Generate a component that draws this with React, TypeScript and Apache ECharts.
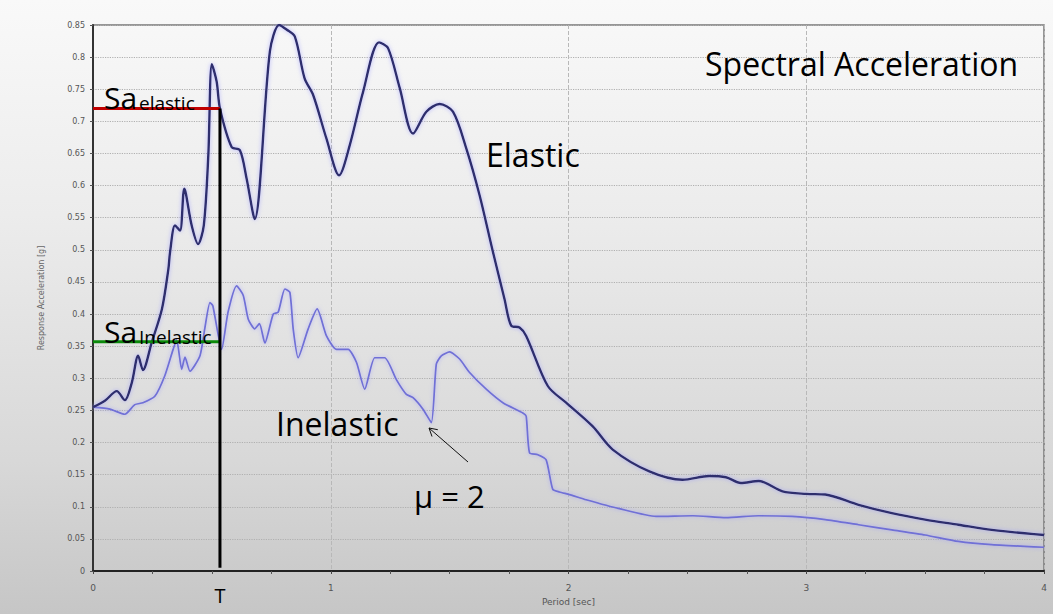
import React, { useEffect, useRef } from "react";
import * as echarts from "echarts";

// Elastic response spectrum (period [sec], Sa [g])
const ELASTIC_T = [0, 0.05, 0.1, 0.134, 0.163, 0.19, 0.21, 0.247, 0.29, 0.317, 0.324, 0.345, 0.366, 0.384, 0.415, 0.442, 0.466, 0.485, 0.5, 0.52, 0.534, 0.583, 0.618, 0.646, 0.68, 0.744, 0.783, 0.814, 0.849, 0.89, 0.926, 0.982, 1.035, 1.08, 1.136, 1.203, 1.241, 1.29, 1.346, 1.402, 1.458, 1.514, 1.57, 1.626, 1.68, 1.731, 1.759, 1.794, 1.822, 1.913, 1.99, 2.102, 2.186, 2.34, 2.48, 2.592, 2.662, 2.725, 2.8, 2.9, 3.0, 3.08, 3.22, 3.36, 3.5, 3.64, 3.78, 4.0];
const ELASTIC_SA = [0.255, 0.265, 0.28, 0.266, 0.293, 0.335, 0.313, 0.356, 0.408, 0.47, 0.496, 0.538, 0.53, 0.595, 0.538, 0.509, 0.538, 0.647, 0.789, 0.762, 0.72, 0.66, 0.655, 0.611, 0.548, 0.809, 0.85, 0.843, 0.832, 0.767, 0.741, 0.673, 0.616, 0.663, 0.746, 0.823, 0.814, 0.752, 0.681, 0.715, 0.727, 0.715, 0.658, 0.585, 0.5, 0.423, 0.382, 0.379, 0.366, 0.288, 0.262, 0.225, 0.189, 0.155, 0.142, 0.148, 0.146, 0.137, 0.14, 0.124, 0.12, 0.119, 0.103, 0.09, 0.08, 0.072, 0.064, 0.056];

// Inelastic response spectrum, mu = 2
const INELASTIC_T = [0, 0.071, 0.134, 0.176, 0.21, 0.26, 0.302, 0.337, 0.352, 0.373, 0.387, 0.408, 0.45, 0.47, 0.492, 0.504, 0.541, 0.568, 0.604, 0.632, 0.653, 0.68, 0.7, 0.723, 0.758, 0.779, 0.807, 0.828, 0.842, 0.863, 0.905, 0.943, 0.982, 1.024, 1.073, 1.108, 1.143, 1.185, 1.227, 1.276, 1.318, 1.346, 1.388, 1.423, 1.444, 1.465, 1.5, 1.542, 1.584, 1.654, 1.724, 1.808, 1.822, 1.836, 1.871, 1.906, 1.934, 1.962, 2.004, 2.074, 2.214, 2.368, 2.522, 2.662, 2.8, 2.94, 3.08, 3.22, 3.36, 3.5, 3.64, 3.78, 4.0];
const INELASTIC_SA = [0.255, 0.252, 0.244, 0.259, 0.262, 0.272, 0.304, 0.345, 0.36, 0.314, 0.333, 0.311, 0.335, 0.377, 0.418, 0.413, 0.345, 0.403, 0.444, 0.429, 0.392, 0.377, 0.385, 0.355, 0.4, 0.403, 0.439, 0.434, 0.377, 0.332, 0.377, 0.408, 0.366, 0.345, 0.345, 0.325, 0.283, 0.332, 0.332, 0.298, 0.275, 0.27, 0.252, 0.231, 0.322, 0.335, 0.341, 0.33, 0.309, 0.283, 0.262, 0.246, 0.241, 0.184, 0.181, 0.173, 0.127, 0.123, 0.119, 0.111, 0.097, 0.085, 0.086, 0.083, 0.086, 0.085, 0.08, 0.072, 0.064, 0.056, 0.046, 0.041, 0.037];

// Reading of the spectra at period T
const T_PERIOD = 0.534;
const SA_ELASTIC = 0.72;
const SA_INELASTIC = 0.357;

const X_TICKS = [0, 1, 2, 3, 4];

const FONT = "Open Sans";

function pairs(xs: number[], ys: number[]) {
  return xs.map((x, i) => [x, ys[i]]);
}

export default function App() {
  const ref = useRef<HTMLDivElement>(null);
  useEffect(() => {
    if (!ref.current) return;
    const chart = echarts.init(ref.current, null, { renderer: "svg" });
    const txt = (text: string, x: number, y: number, fontSize: number, align = "left") => ({
      type: "text",
      x,
      y,
      z: 10,
      style: { text, fontSize, fontFamily: FONT, fill: "#000", align, verticalAlign: "middle" },
    });
    const option: any = {
      animation: false,
      backgroundColor: "transparent",
      grid: {
        left: 93,
        right: 9,
        top: 25,
        bottom: 43,
        show: true,
        borderColor: "#777",
        borderWidth: 1.5,
        backgroundColor: "transparent",
      },
      xAxis: {
        type: "value",
        min: X_TICKS[0],
        max: X_TICKS[X_TICKS.length - 1],
        interval: 1,
        name: "Period [sec]",
        nameLocation: "middle",
        nameGap: 26,
        nameTextStyle: { color: "#555", fontSize: 9, fontFamily: "DejaVu Sans" },
        axisLine: { show: true, onZero: false, lineStyle: { color: "#222", width: 2 } },
        axisTick: { show: true, length: 3, lineStyle: { color: "#444" } },
        minorTick: { show: true, splitNumber: 4, length: 3, lineStyle: { color: "#555" } },
        axisLabel: { color: "#555", fontSize: 9, margin: 12, fontFamily: "DejaVu Sans" },
        splitLine: { show: true, lineStyle: { color: "#b8b8b8", type: "dashed", width: 1 } },
      },
      yAxis: {
        type: "value",
        min: 0,
        max: 0.85,
        interval: 0.05,
        name: "Response Acceleration [g]",
        nameLocation: "middle",
        nameGap: 48,
        nameTextStyle: { color: "#666", fontSize: 8, fontFamily: "DejaVu Sans" },
        axisLine: { show: true, lineStyle: { color: "#333", width: 2 } },
        axisTick: { show: true, length: 3, lineStyle: { color: "#555" } },
        axisLabel: { color: "#555", fontSize: 8, margin: 8, fontFamily: "DejaVu Sans" },
        splitLine: { show: true, lineStyle: { color: "#b0b0b0", type: "dotted", width: 1.2 } },
      },
      series: [
        {
          name: "Inelastic",
          type: "line",
          data: pairs(INELASTIC_T, INELASTIC_SA),
          showSymbol: false,
          smooth: 0.2,
          lineStyle: {
            color: "#6f6fd6",
            width: 1.7,
            shadowColor: "rgba(150,150,255,0.7)",
            shadowBlur: 4,
          },
          z: 2,
        },
        {
          name: "Elastic",
          type: "line",
          data: pairs(ELASTIC_T, ELASTIC_SA),
          showSymbol: false,
          smooth: 0.3,
          lineStyle: {
            color: "#2d2d6d",
            width: 2.4,
            shadowColor: "rgba(150,150,255,0.7)",
            shadowBlur: 4,
          },
          z: 3,
        },
        {
          name: "SaElastic",
          type: "line",
          data: [
            [0, SA_ELASTIC],
            [T_PERIOD, SA_ELASTIC],
          ],
          showSymbol: false,
          lineStyle: { color: "#c00000", width: 3 },
          z: 5,
        },
        {
          name: "SaInelastic",
          type: "line",
          data: [
            [0, SA_INELASTIC],
            [T_PERIOD, SA_INELASTIC],
          ],
          showSymbol: false,
          lineStyle: { color: "#0b8a0b", width: 3 },
          z: 5,
        },
        {
          name: "T",
          type: "line",
          data: [
            [T_PERIOD, 0.005],
            [T_PERIOD, SA_ELASTIC],
          ],
          showSymbol: false,
          lineStyle: { color: "#000", width: 3 },
          z: 6,
        },
      ],
      graphic: [
        txt("Spectral Acceleration", 705, 63, 32),
        txt("Elastic", 486, 154, 32),
        txt("Inelastic", 276, 423, 32),
        txt("μ = 2", 414, 496, 31),
        txt("Sa", 104, 97, 30),
        txt("elastic", 139, 103, 19),
        txt("Sa", 104, 331, 30),
        txt("Inelastic", 139, 337, 19),
        txt("T", 220, 595, 20, "center"),
        {
          type: "line",
          z: 10,
          shape: { x1: 468, y1: 462, x2: 429, y2: 428 },
          style: { stroke: "#111", lineWidth: 1 },
        },
        {
          type: "polyline",
          z: 10,
          shape: { points: [[432, 436.5], [429, 428], [437.8, 429.7]] },
          style: { stroke: "#111", lineWidth: 1, fill: null },
        },
      ],
    };
    chart.setOption(option);
    return () => chart.dispose();
  }, []);
  return (
    <div
      style={{
        position: "absolute",
        left: 0,
        top: 0,
        width: 1053,
        height: 614,
        background: "linear-gradient(to bottom, #f9f9f9 0%, #ececec 35%, #d8d8d8 75%, #c6c6c6 100%)",
      }}
    >
      <div ref={ref} style={{ width: 1053, height: 614 }} />
    </div>
  );
}
